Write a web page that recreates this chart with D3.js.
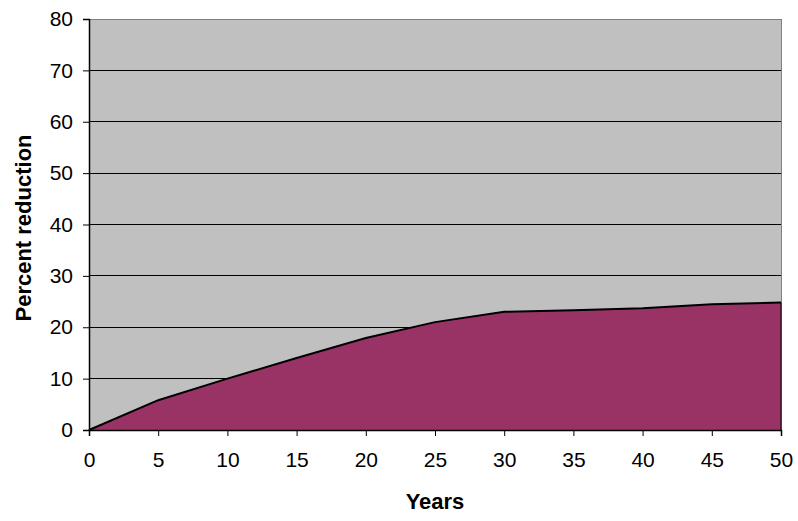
<!DOCTYPE html>
<html><head><meta charset="utf-8">
<script src="https://cdn.jsdelivr.net/npm/d3@7"></script>
<style>body{margin:0;background:#fff}svg{display:block}</style>
</head><body><svg id="c" width="798" height="521"></svg>
<script>
const years = [0,5,10,15,20,25,30,35,40,45,50];
const reduction = [0,5.8,10,14,17.9,21,23,23.3,23.7,24.5,24.8];
const xTicks = [0,5,10,15,20,25,30,35,40,45,50];
const yTicks = [0,10,20,30,40,50,60,70,80];

const svg = d3.select("#c");
const L=89, R=781, T=19, B=430;
const x = d3.scaleLinear().domain([0,50]).range([L,R]);
const y = d3.scaleLinear().domain([0,80]).range([B,T]);

svg.append("rect").attr("x",L).attr("y",T).attr("width",R-L).attr("height",B-T).attr("fill","#c0c0c0");
svg.append("g").selectAll("line").data(yTicks.filter(d=>d>0&&d<80)).join("line")
  .attr("x1",L).attr("x2",R).attr("y1",d=>y(d)).attr("y2",d=>y(d)).attr("stroke","#000").attr("stroke-width",1)
  .attr("shape-rendering","crispEdges");
svg.append("rect").attr("x",L).attr("y",T).attr("width",R-L).attr("height",B-T).attr("fill","none").attr("stroke","#808080").attr("shape-rendering","crispEdges");

const pts = years.map((d,i)=>[d,reduction[i]]);
svg.append("path").datum(pts)
  .attr("d", d3.area().x(d=>x(d[0])).y0(y(0)).y1(d=>y(d[1])))
  .attr("fill","#993366");
svg.append("path").datum(pts)
  .attr("d", d3.line().x(d=>x(d[0])).y(d=>y(d[1])))
  .attr("fill","none").attr("stroke","#000").attr("stroke-width",2);
svg.append("line").attr("x1",x(50)).attr("x2",x(50)).attr("y1",y(reduction[reduction.length-1])).attr("y2",B).attr("stroke","#000").attr("stroke-width",1);

const font = "Arial, 'Liberation Sans', sans-serif";
const xa = svg.append("g").attr("transform",`translate(0,${B})`)
  .call(d3.axisBottom(x).tickValues(xTicks).tickSize(6).tickPadding(16).tickFormat(d3.format("d")));
const ya = svg.append("g").attr("transform",`translate(${L},0)`)
  .call(d3.axisLeft(y).tickValues(yTicks).tickSize(6).tickPadding(10).tickFormat(d3.format("d")));
[xa,ya].forEach(a=>{
  a.select(".domain").attr("stroke","#000").attr("stroke-width",1.5);
  a.selectAll(".tick line").attr("stroke","#000");
  a.selectAll("text").attr("font-family",font).attr("font-size",21).attr("fill","#000");
});

svg.append("text").attr("x",(L+R)/2).attr("y",509).attr("text-anchor","middle")
  .attr("font-family",font).attr("font-weight","bold").attr("font-size",22).text("Years");
svg.append("text").attr("transform",`translate(31,228) rotate(-90)`).attr("text-anchor","middle")
  .attr("font-family",font).attr("font-weight","bold").attr("font-size",22).text("Percent reduction");
</script></body></html>
